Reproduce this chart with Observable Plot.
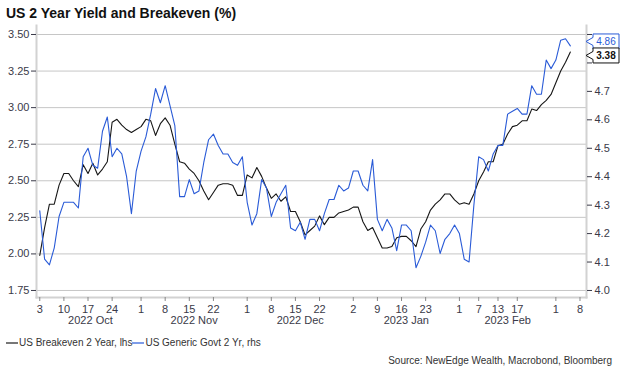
<!DOCTYPE html>
<html><head><meta charset="utf-8">
<script src="https://cdn.jsdelivr.net/npm/d3@7"></script>
<script src="https://cdn.jsdelivr.net/npm/@observablehq/plot@0.6"></script>
<style>
body{margin:0;background:#fff;font-family:"Liberation Sans",Arial,sans-serif;}
#wrap{position:relative;width:624px;height:375px;overflow:hidden;background:#fff}
#title{position:absolute;left:6px;top:5px;font-size:14px;font-weight:bold;color:#111;white-space:nowrap}
#chart{position:absolute;left:0;top:25px}
#legend{position:absolute;left:6px;top:337px;font-size:10px;line-height:12px;color:#333;white-space:nowrap}
#legend span.sw{display:inline-block;width:12px;height:0;border-top:2px solid;vertical-align:middle;margin-right:1px}
#source{position:absolute;right:12px;top:355px;font-size:10px;line-height:12px;color:#333;white-space:nowrap}
</style></head>
<body><div id="wrap">
<div id="title">US 2 Year Yield and Breakeven (%)</div>
<div id="chart"></div>
<div id="legend"><span class="sw" style="border-color:#777"></span>US Breakeven 2 Year, lhs<span class="sw" style="border-color:#7d9ce9"></span>US Generic Govt 2 Yr, rhs</div>
<div id="source">Source: NewEdge Wealth, Macrobond, Bloomberg</div>
</div>
<script>
// Observation index = weekday count from Mon 3 Oct 2022
const breakeven = [1.99,2.18,2.34,2.34,2.47,2.55,2.55,2.50,2.46,2.61,2.55,2.62,2.54,2.58,2.63,2.90,2.92,2.88,2.85,2.83,
2.85,2.87,2.92,2.91,2.81,2.89,2.93,2.88,2.75,2.63,2.62,2.58,2.55,2.50,2.43,2.37,2.42,2.47,2.48,2.48,
2.47,2.40,2.40,2.54,2.52,2.59,2.53,2.45,2.38,2.41,2.36,2.39,2.29,2.29,2.22,2.13,2.16,2.19,2.26,2.20,
2.25,2.25,2.28,2.29,2.30,2.32,2.32,2.22,2.16,2.18,2.11,2.04,2.04,2.05,2.11,2.12,2.12,2.09,2.05,2.17,
2.22,2.30,2.34,2.37,2.41,2.41,2.37,2.34,2.35,2.34,2.41,2.50,2.56,2.63,2.63,2.74,2.75,2.82,2.87,2.88,
2.91,2.91,2.99,2.98,3.02,3.05,3.09,3.17,3.25,3.31,3.38];
const govt2y = [4.28,4.11,4.09,4.15,4.26,4.31,4.31,4.31,4.29,4.47,4.50,4.44,4.43,4.56,4.61,4.47,4.50,4.48,4.40,4.27,
4.42,4.49,4.54,4.62,4.71,4.66,4.72,4.65,4.58,4.33,4.33,4.39,4.34,4.35,4.45,4.53,4.55,4.51,4.48,4.48,
4.45,4.44,4.47,4.31,4.23,4.27,4.39,4.36,4.26,4.31,4.34,4.37,4.22,4.21,4.24,4.18,4.25,4.25,4.21,4.27,
4.32,4.32,4.37,4.35,4.36,4.42,4.42,4.37,4.35,4.46,4.25,4.21,4.25,4.22,4.14,4.23,4.23,4.21,4.08,4.12,
4.17,4.23,4.21,4.13,4.18,4.20,4.23,4.20,4.11,4.10,4.30,4.47,4.46,4.42,4.48,4.51,4.51,4.62,4.63,4.64,
4.62,4.62,4.72,4.69,4.69,4.81,4.78,4.81,4.88,4.885,4.86];
const tickIdx = [0,5,10,15,21,26,31,36,43,48,53,58,65,70,75,80,87,91,95,99,107,112];
const tickLabels = ["3","10","17","24","1","8","15","22","1","8","15","22","2","9","16","23","1","7","13","17","1","8"];
const monthStarts = [0,21,43,65,87,107];
const monthLabels = ["2022 Oct","2022 Nov","2022 Dec","2023 Jan","2023 Feb"];
const leftTicks = [1.75,2.00,2.25,2.50,2.75,3.00,3.25,3.50];
const rightTicks = [4.0,4.1,4.2,4.3,4.4,4.5,4.6,4.7,4.8,4.9];
const xDomain = [-0.68, 113.35];
const yDomain = [1.702, 3.5615];
const rightBase = [4.0, 1.75], rightRatio = 1.75/0.9;

const toLeft = v => rightBase[1] + (v - rightBase[0]) * rightRatio;
const fromLeft = v => rightBase[0] + (v - rightBase[1]) / rightRatio;

const data = breakeven.map((b, i) => ({i, be: b, gy: govt2y[i], gyL: toLeft(govt2y[i])}));
const dayMap = new Map(tickIdx.map((t, k) => [t, tickLabels[k]]));
const monthCenters = monthLabels.map((m, k) => (monthStarts[k] + monthStarts[k+1]) / 2);
const monthMap = new Map(monthCenters.map((c, k) => [c, monthLabels[k]]));

const W = 624, H = 312, mT = 0, mB = 40, mL = 36, mR = 38;
const ys = Plot.scale({y: {domain: yDomain, range: [H - mB, mT]}});

// callout positions (end values), nudged apart so the boxes do not overlap
const last = data[data.length - 1];
const boxH = 15;
let yB = ys.apply(last.be), yG = ys.apply(last.gyL);
if (Math.abs(yB - yG) < boxH - 1) {
  const m = (yB + yG) / 2;
  if (yG <= yB) { yG = m - (boxH - 1) / 2; yB = m + (boxH - 1) / 2; }
  else { yB = m - (boxH - 1) / 2; yG = m + (boxH - 1) / 2; }
}
// right-axis labels hidden behind the callouts (as in the original)
const hiddenRight = new Set(rightTicks.map(toLeft).filter(v => {
  const p = ys.apply(v);
  return Math.abs(p - yB) < 10 || Math.abs(p - yG) < 10;
}));

const font = "'Liberation Sans', Arial, sans-serif";
const plot = Plot.plot({
  width: W, height: H,
  marginTop: mT, marginBottom: mB, marginLeft: mL, marginRight: mR,
  style: {fontFamily: font, fontSize: "11px", background: "white", overflow: "visible"},
  x: {type: "linear", domain: xDomain},
  y: {domain: yDomain},
  marks: [
    Plot.ruleY(leftTicks, {stroke: "#c6c6c6", strokeWidth: 1}),
    Plot.frame({anchor: "left", stroke: "#d2d2d2", strokeWidth: 2}),
    Plot.frame({anchor: "right", stroke: "#d2d2d2", strokeWidth: 2}),
    Plot.frame({anchor: "bottom", stroke: "#d2d2d2", strokeWidth: 2}),
    Plot.axisY(leftTicks, {anchor: "left", tickSize: 5, tickPadding: 2, tickFormat: d3.format(".2f"), label: null, color: "#3a3a48"}),
    Plot.axisY(rightTicks.map(toLeft), {anchor: "right", tickSize: 5, tickPadding: 3, tickFormat: d => hiddenRight.has(d) ? "" : d3.format(".1f")(fromLeft(d)), label: null, color: "#3a3a48"}),
    Plot.axisX(tickIdx, {anchor: "bottom", tickSize: 4, tickPadding: 4, tickFormat: d => dayMap.get(d), label: null, color: "#3a3a48", stroke: "#888"}),
    Plot.axisX(monthCenters, {anchor: "bottom", tickSize: 0, tickPadding: 19, tickFormat: d => monthMap.get(d), label: null, color: "#3a3a48"}),
    Plot.line(data, {x: "i", y: "be", stroke: "#161616", strokeWidth: 1.1}),
    Plot.line(data, {x: "i", y: "gyL", stroke: "#2a5bd7", strokeWidth: 1.1})
  ]
});
document.getElementById("chart").appendChild(plot);

// End-value callouts on the right axis
const sx = plot.scale("x");
const x0 = sx.apply(xDomain[1]);
const svg = d3.select(plot);
function callout(y, text, color, weight) {
  const g = svg.append("g");
  const bx = x0 + 7, bw = 26;
  g.append("path")
    .attr("d", `M${x0},${y} L${bx},${y-4} L${bx},${y-boxH/2} L${bx+bw},${y-boxH/2} L${bx+bw},${y+boxH/2} L${bx},${y+boxH/2} L${bx},${y+4} Z`)
    .attr("fill", "white").attr("stroke", color).attr("stroke-width", 1);
  g.append("text").attr("x", bx + bw/2).attr("y", y).attr("dy", "0.35em")
    .attr("text-anchor", "middle").attr("font-size", 10).attr("font-weight", weight)
    .attr("font-family", font).attr("fill", color).text(text);
}
callout(yG, d3.format(".2f")(last.gy), "#2a5bd7", "normal");
callout(yB, d3.format(".2f")(last.be), "#111", "bold");
</script>
</body></html>
